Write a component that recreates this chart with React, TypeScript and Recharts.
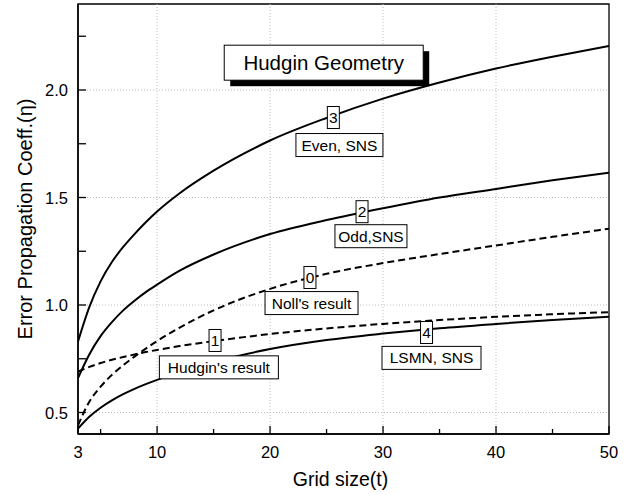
import React from 'react';
import { LineChart, Line, XAxis, YAxis, ReferenceLine, ReferenceArea, ReferenceDot } from 'recharts';

const gridSize = [3, 4, 5, 6, 7, 8, 9, 10, 12, 15, 20, 25, 30, 35, 40, 45, 50];
const evenSNS = [0.83, 0.99, 1.11, 1.2, 1.27, 1.33, 1.385, 1.435, 1.52, 1.625, 1.765, 1.87, 1.96, 2.035, 2.1, 2.155, 2.205];
const oddSNS = [0.66, 0.77, 0.855, 0.92, 0.975, 1.02, 1.06, 1.095, 1.16, 1.235, 1.33, 1.395, 1.45, 1.5, 1.54, 1.58, 1.615];
const nollResult = [0.44, 0.55, 0.62, 0.675, 0.72, 0.76, 0.797, 0.832, 0.895, 0.975, 1.075, 1.145, 1.195, 1.237, 1.277, 1.317, 1.355];
const hudginResult = [0.69, 0.712, 0.73, 0.745, 0.758, 0.77, 0.781, 0.791, 0.809, 0.832, 0.865, 0.891, 0.912, 0.93, 0.945, 0.957, 0.967];
const lsmnSNS = [0.425, 0.48, 0.522, 0.556, 0.585, 0.61, 0.632, 0.652, 0.688, 0.735, 0.795, 0.837, 0.867, 0.892, 0.912, 0.93, 0.945];

const xTicks = [3, 5, 10, 15, 20, 25, 30, 35, 40, 45, 50];
const xTickLabels = [3, 10, 20, 30, 40, 50];
const yTicks = [0.5, 0.75, 1, 1.25, 1.5, 1.75, 2, 2.25];
const yTickLabels = [0.5, 1, 1.5, 2];
const xGrid = [10, 20, 30, 40];
const yGrid = [0.5, 1, 1.5, 2];

const curveTags = [
  { text: '3', t: 25.6, v: 1.872 },
  { text: '2', t: 28.14, v: 1.434 },
  { text: '0', t: 23.53, v: 1.128 },
  { text: '1', t: 15.13, v: 0.835 },
  { text: '4', t: 33.85, v: 0.872 },
];
const curveNames = [
  { text: 'Even, SNS', t: 26.14, v: 1.744, w: 87 },
  { text: 'Odd,SNS', t: 28.93, v: 1.32, w: 72 },
  { text: "Noll's result", t: 23.67, v: 1.009, w: 93 },
  { text: "Hudgin's result", t: 15.47, v: 0.71, w: 119 },
  { text: 'LSMN, SNS', t: 34.29, v: 0.754, w: 99 },
];
const titleBox = { text: 'Hudgin Geometry', t: 24.75, v: 2.127 };

const data = gridSize.map((t, i) => ({
  t,
  even: evenSNS[i],
  odd: oddSNS[i],
  noll: nollResult[i],
  hudgin: hudginResult[i],
  lsmn: lsmnSNS[i],
}));

const FONT = '"Liberation Sans", Arial, Helvetica, sans-serif';

const XTick = (props: any) => {
  const { x, y, payload } = props;
  const major = xTickLabels.includes(payload.value);
  return (
    <g>
      <line x1={x} x2={x} y1={y} y2={y - (major ? 8 : 5)} stroke="#000" strokeWidth={1.3} />
      {major && (
        <text x={x} y={y + 24} textAnchor="middle" fontSize={16.5} fontFamily={FONT} fill="#000">
          {payload.value}
        </text>
      )}
    </g>
  );
};

const YTick = (props: any) => {
  const { x, y, payload } = props;
  const major = yTickLabels.includes(payload.value);
  return (
    <g>
      <line x1={x} x2={x + 8} y1={y} y2={y} stroke="#000" strokeWidth={1.3} />
      {major && (
        <text x={x - 10} y={y + 6} textAnchor="end" fontSize={16.5} fontFamily={FONT} fill="#000">
          {payload.value.toFixed(1)}
        </text>
      )}
    </g>
  );
};

const TagBox = ({ cx, cy, text }: any) => (
  <g>
    <rect x={cx - 6} y={cy - 11} width={12} height={22} fill="#fff" stroke="#000" strokeWidth={1} />
    <text x={cx} y={cy + 5.5} textAnchor="middle" fontSize={15.5} fontFamily={FONT} fill="#000">
      {text}
    </text>
  </g>
);

const NameBox = ({ cx, cy, text, w }: any) => (
  <g>
    <rect x={cx - w / 2} y={cy - 11.5} width={w} height={23} fill="#fff" stroke="#000" strokeWidth={1} />
    <text x={cx} y={cy + 5.5} textAnchor="middle" fontSize={15.5} fontFamily={FONT} fill="#000">
      {text}
    </text>
  </g>
);

const TitleBox = ({ cx, cy, text }: any) => (
  <g>
    <rect x={cx - 99.5 + 6} y={cy - 17.5 + 6} width={199} height={35} fill="#000" />
    <rect x={cx - 99.5} y={cy - 17.5} width={199} height={35} fill="#fff" stroke="#000" strokeWidth={1} />
    <text x={cx} y={cy + 7} textAnchor="middle" fontSize={20.5} fontFamily={FONT} fill="#000">
      {text}
    </text>
  </g>
);

export default function App() {
  return (
    <div style={{ position: 'absolute', left: 0, top: 0, width: 640, height: 495, background: '#fff' }}>
      <LineChart width={640} height={495} data={data} margin={{ top: 4, right: 31, bottom: 0, left: 0 }}>
        <XAxis
          dataKey="t"
          type="number"
          domain={[3, 50]}
          ticks={xTicks}
          interval={0}
          allowDataOverflow
          height={61}
          tickSize={0}
          tickMargin={0}
          tickLine={false}
          tick={<XTick />}
          axisLine={{ stroke: '#000', strokeWidth: 1.5 }}
          label={{
            content: (p: any) => {
              const vb = p.viewBox;
              return (
                <text x={vb.x + vb.width / 2 - 3} y={vb.y + 52} textAnchor="middle" fontSize={19.5} fontFamily={FONT} fill="#000">
                  Grid size(t)
                </text>
              );
            },
          }}
        />
        <YAxis
          type="number"
          domain={[0.4, 2.4]}
          ticks={yTicks}
          interval={0}
          allowDataOverflow
          width={78}
          tickSize={0}
          tickMargin={0}
          tickLine={false}
          tick={<YTick />}
          axisLine={{ stroke: '#000', strokeWidth: 1.5 }}
          label={{
            content: (p: any) => {
              const vb = p.viewBox;
              const cx = vb.x + 25;
              const cy = vb.y + vb.height / 2;
              return (
                <text
                  x={cx}
                  y={cy}
                  transform={`rotate(-90, ${cx}, ${cy})`}
                  textAnchor="middle"
                  dominantBaseline="central"
                  fontSize={20}
                  fontFamily={FONT}
                  fill="#000"
                >
                  Error Propagation Coeff.(η)
                </text>
              );
            },
          }}
        />
        {xGrid.map((g) => (
          <ReferenceLine key={'xg' + g} x={g} stroke="#bdbdbd" strokeDasharray="1 2" strokeWidth={1} />
        ))}
        {yGrid.map((g) => (
          <ReferenceLine key={'yg' + g} y={g} stroke="#bdbdbd" strokeDasharray="1 2" strokeWidth={1} />
        ))}
        <Line dataKey="even" type="monotone" stroke="#000" strokeWidth={2} dot={false} isAnimationActive={false} />
        <Line dataKey="odd" type="monotone" stroke="#000" strokeWidth={2} dot={false} isAnimationActive={false} />
        <Line dataKey="noll" type="monotone" stroke="#000" strokeWidth={2} strokeDasharray="7 4" dot={false} isAnimationActive={false} />
        <Line dataKey="hudgin" type="monotone" stroke="#000" strokeWidth={2} strokeDasharray="7 4" dot={false} isAnimationActive={false} />
        <Line dataKey="lsmn" type="monotone" stroke="#000" strokeWidth={2} dot={false} isAnimationActive={false} />
        <ReferenceArea x1={3} x2={50} y1={0.4} y2={2.4} fill="none" fillOpacity={0} stroke="#000" strokeWidth={1.3} ifOverflow="visible" />
        {curveTags.map((a) => (
          <ReferenceDot
            key={'tag' + a.text}
            x={a.t}
            y={a.v}
            r={0}
            ifOverflow="visible"
            shape={(p: any) => <TagBox cx={p.cx} cy={p.cy} text={a.text} />}
          />
        ))}
        {curveNames.map((a) => (
          <ReferenceDot
            key={'name' + a.text}
            x={a.t}
            y={a.v}
            r={0}
            ifOverflow="visible"
            shape={(p: any) => <NameBox cx={p.cx} cy={p.cy} text={a.text} w={a.w} />}
          />
        ))}
        <ReferenceDot
          x={titleBox.t}
          y={titleBox.v}
          r={0}
          ifOverflow="visible"
          shape={(p: any) => <TitleBox cx={p.cx} cy={p.cy} text={titleBox.text} />}
        />
      </LineChart>
    </div>
  );
}
